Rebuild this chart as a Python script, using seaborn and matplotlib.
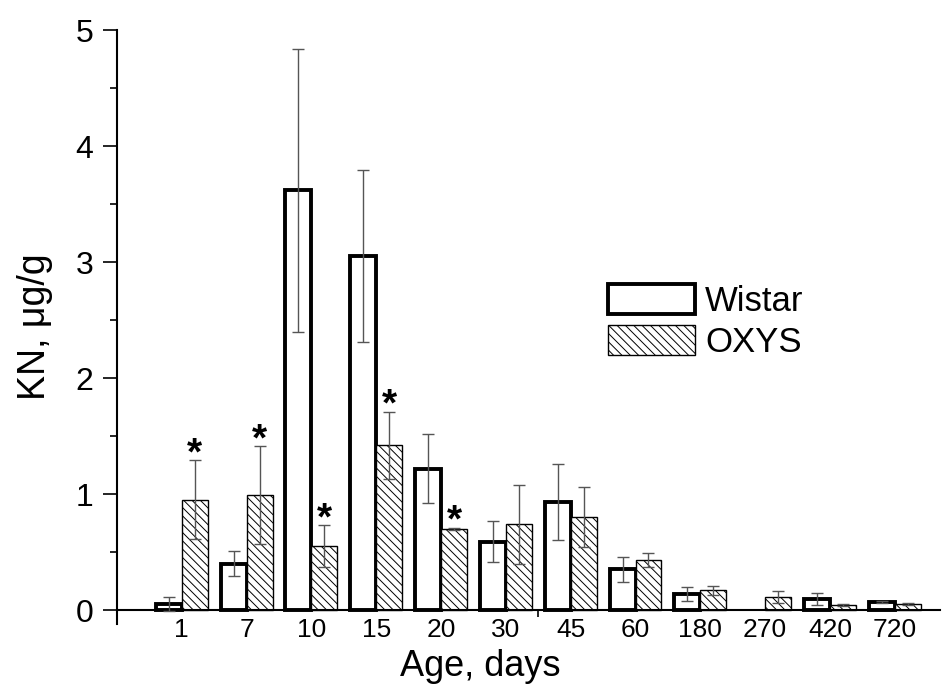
import numpy as np
import pandas as pd
import matplotlib
matplotlib.use("Agg")
import matplotlib.pyplot as plt
import seaborn as sns
from matplotlib.patches import Patch
from matplotlib.ticker import MultipleLocator, FixedLocator

# DATA

ages = ["1", "7", "10", "15", "20", "30", "45", "60", "180", "270", "420", "720"]

wistar_mean = [0.05, 0.40, 3.62, 3.05, 1.22, 0.59, 0.93, 0.35, 0.14, np.nan, 0.095, 0.07]
wistar_err = [0.06, 0.11, 1.22, 0.74, 0.30, 0.18, 0.33, 0.11, 0.06, np.nan, 0.05, 0.01]

oxys_mean = [0.95, 0.99, 0.55, 1.42, 0.70, 0.74, 0.80, 0.43, 0.17, 0.11, 0.045, 0.05]
oxys_err = [0.34, 0.42, 0.18, 0.29, 0.01, 0.34, 0.26, 0.06, 0.04, 0.05, 0.01, 0.01]

# ages where OXYS differs significantly from Wistar
signif = ["1", "7", "10", "15", "20"]

strains = ["Wistar", "OXYS"]

df = pd.DataFrame({
    "Age": ages * 2,
    "KN": wistar_mean + oxys_mean,
    "Strain": ["Wistar"] * len(ages) + ["OXYS"] * len(ages),
})
errors = {"Wistar": wistar_err, "OXYS": oxys_err}

# STYLE

sns.set_style("ticks")
plt.rcParams["font.family"] = ["Liberation Sans", "DejaVu Sans"]
plt.rcParams["hatch.linewidth"] = 0.7
for key in ["text.color", "axes.labelcolor", "xtick.color", "ytick.color", "axes.edgecolor"]:
    plt.rcParams[key] = "black"

WISTAR_LW = 2.8
OXYS_LW = 1.0
HATCH = "\\\\\\\\"

fig = plt.figure(figsize=(9.43, 6.90), dpi=100)
ax = fig.add_axes([0.124, 0.0957, 0.873, 0.8608])

sns.barplot(
    data=df,
    x="Age",
    y="KN",
    hue="Strain",
    order=ages,
    hue_order=strains,
    errorbar=None,
    width=0.8,
    gap=0,
    legend=False,
    ax=ax,
)

# BAR STYLING + ERROR BARS

for container, strain in zip(ax.containers, strains):
    for bar in container:
        h = bar.get_height()
        xc = bar.get_x() + bar.get_width() / 2
        i = int(round(xc))
        bar.set_facecolor("white")
        bar.set_edgecolor("black")
        if strain == "Wistar":
            bar.set_linewidth(WISTAR_LW)
        else:
            bar.set_linewidth(OXYS_LW)
            bar.set_hatch(HATCH)
        if np.isnan(h):
            continue
        e = errors[strain][i]
        ax.errorbar(
            xc, h, yerr=e,
            fmt="none",
            ecolor="#555555",
            elinewidth=1.0,
            capsize=4.5,
            capthick=1.0,
            zorder=4,
        )
        if strain == "OXYS" and ages[i] in signif:
            ax.annotate(
                "*", (xc, h + e),
                xytext=(0, -3), textcoords="offset points",
                ha="center", va="baseline",
                fontsize=28, fontweight="bold",
            )

# AXES

ax.set_xlim(-1, 11.7)
ax.set_ylim(-0.12, 5)

ax.spines["top"].set_visible(False)
ax.spines["right"].set_visible(False)
ax.spines["bottom"].set_position(("data", 0))
ax.spines["left"].set_linewidth(1.5)
ax.spines["bottom"].set_linewidth(1.5)

ax.yaxis.set_major_locator(MultipleLocator(1))
ax.yaxis.set_minor_locator(MultipleLocator(0.5))
ax.tick_params(axis="y", which="major", length=10, width=1.2, labelsize=23, pad=7)
ax.tick_params(axis="y", which="minor", length=5, width=1.2)

ax.xaxis.set_minor_locator(FixedLocator([5.5]))
ax.tick_params(axis="x", which="major", length=0, labelsize=19, pad=6)
ax.tick_params(axis="x", which="minor", length=5, width=1.2)

ax.set_xlabel("Age, days", fontsize=26)
ax.xaxis.set_label_coords(0.441, -0.042)
ax.set_ylabel("KN, \u03bcg/g", fontsize=27, labelpad=16)

# LEGEND

handles = [
    Patch(facecolor="white", edgecolor="black", linewidth=WISTAR_LW, label="Wistar"),
    Patch(facecolor="white", edgecolor="black", linewidth=OXYS_LW, hatch=HATCH, label="OXYS"),
]
ax.legend(
    handles=handles,
    loc="upper left",
    bbox_to_anchor=(608 / 943, 1 - 284 / 690),
    bbox_transform=fig.transFigure,
    frameon=False,
    fontsize=25,
    handlelength=2.5,
    handleheight=0.95,
    handletextpad=0.3,
    labelspacing=0.2,
    borderpad=0,
    borderaxespad=0,
)

plt.savefig("out.png", dpi=100)
